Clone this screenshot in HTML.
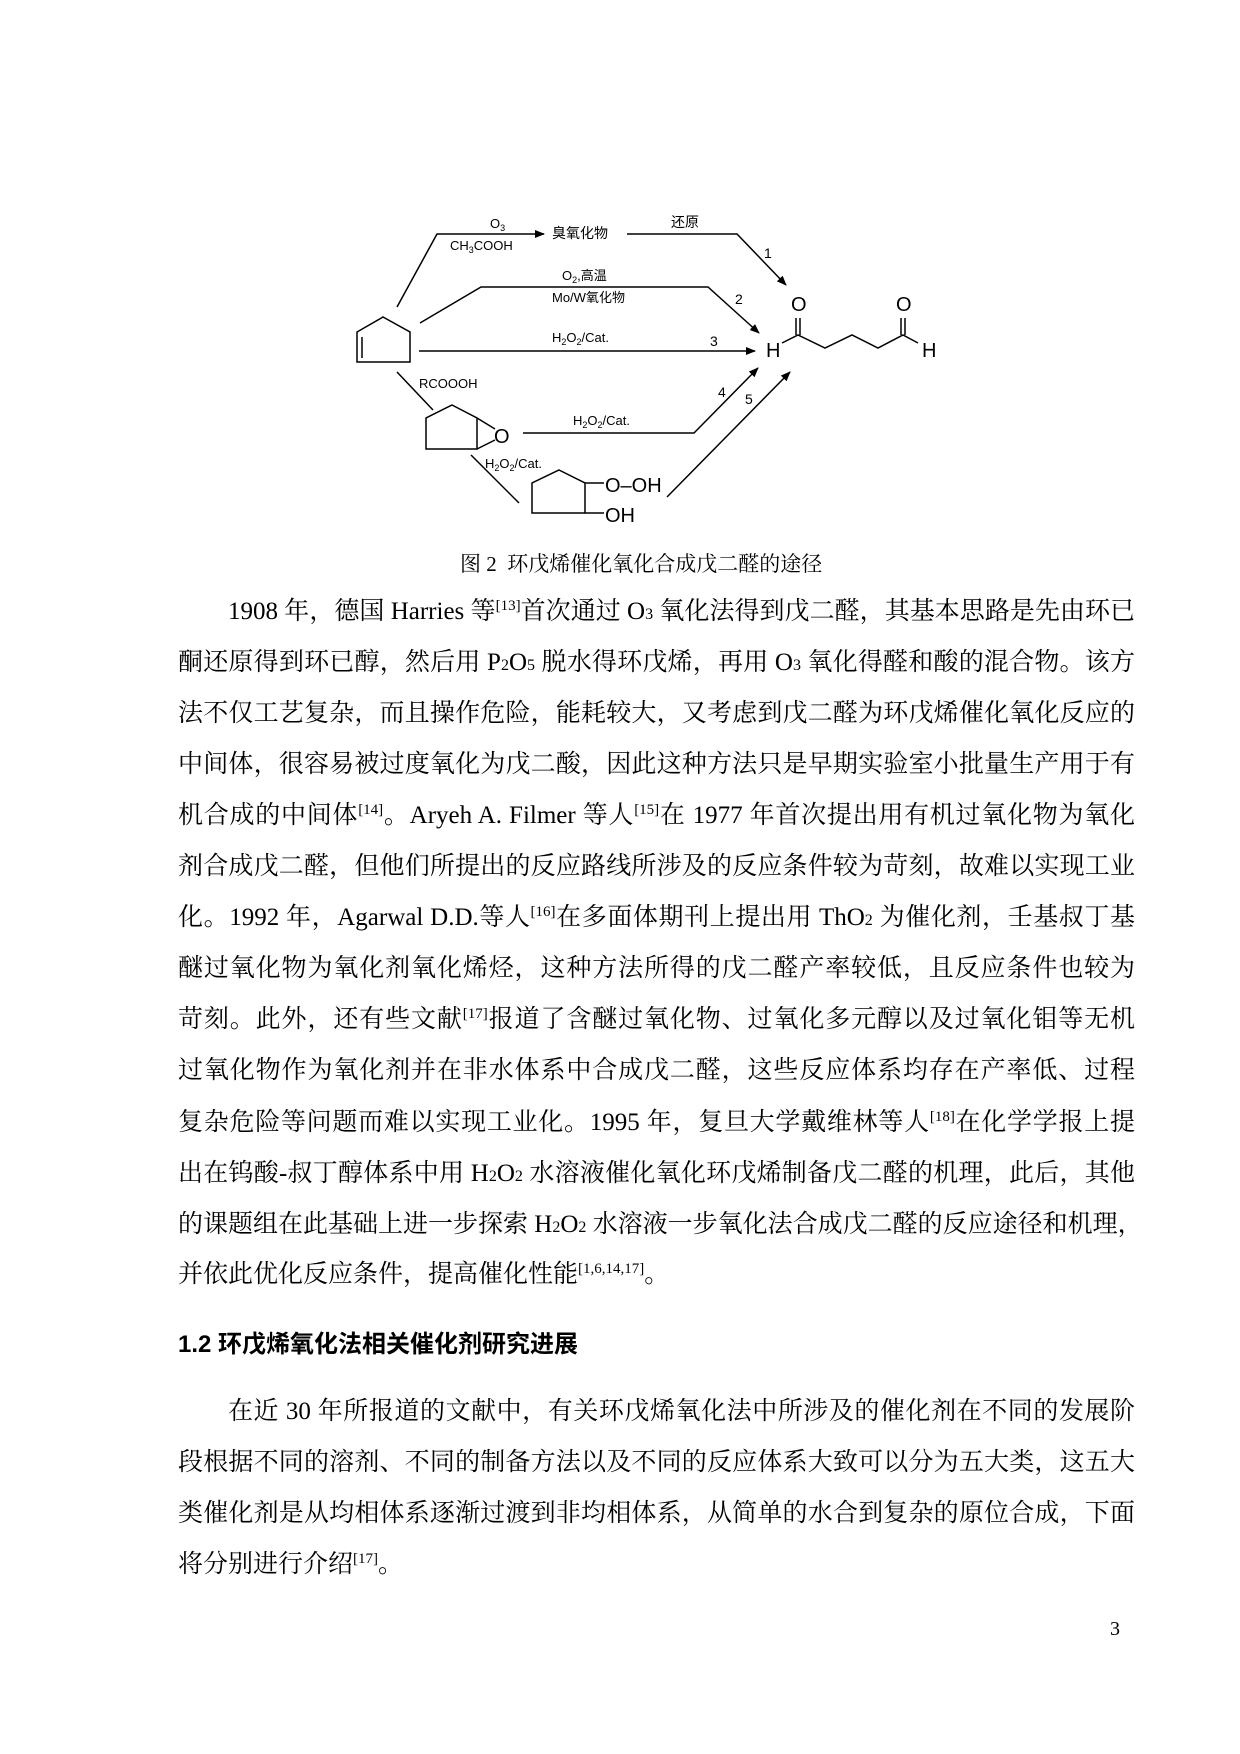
<!DOCTYPE html>
<html><head><meta charset="utf-8">
<style>
html,body{margin:0;padding:0;background:#fff;}
body{width:1240px;height:1754px;position:relative;overflow:hidden;}
.l{position:absolute;left:178px;width:957px;height:30px;line-height:30px;font-family:"Liberation Serif","Noto Serif CJK SC",serif;font-size:25px;color:#000;text-align:justify;text-align-last:justify;white-space:nowrap;}
.l.f{left:228px;width:907px;}
.l.e{text-align-last:left;}
sup{font-size:15px;vertical-align:0;position:relative;top:-9px;line-height:0;}
.s{font-size:16px;}
.h{position:absolute;left:178px;top:1330px;font-family:"Liberation Sans","Noto Sans CJK SC",sans-serif;font-weight:bold;font-size:24px;line-height:30px;}
.cap{position:absolute;left:460px;top:549px;font-family:"Liberation Serif","Noto Serif CJK SC",serif;font-size:21px;line-height:30px;}
.pn{position:absolute;left:1110px;top:1618px;font-family:"Liberation Serif",serif;font-size:20px;}
svg text{font-family:"Liberation Sans","Noto Sans CJK SC",sans-serif;}
</style></head><body>
<svg width="1240" height="560" style="position:absolute;left:0;top:0" xmlns="http://www.w3.org/2000/svg">
<defs><marker id="a" markerWidth="10" markerHeight="8" refX="9" refY="4" orient="auto" markerUnits="userSpaceOnUse"><path d="M0,0 L10,4 L0,8 z" fill="#000"/></marker></defs>
<g stroke="#000" stroke-width="1.5" fill="none">
<polygon points="383,317 410,332 410,362 357,362 357,332"/>
<line x1="362" y1="337" x2="362" y2="358"/>
<polyline points="397,307 437,234 544,234" marker-end="url(#a)"/>
<polyline points="627,234 737,234 786,285" marker-end="url(#a)"/>
<polyline points="420,323 481,287 708,287 759,333" marker-end="url(#a)"/>
<line x1="419" y1="351" x2="755" y2="351" marker-end="url(#a)"/>
<polyline points="523,433 694,433 758,368" marker-end="url(#a)"/>
<line x1="667" y1="497" x2="790" y2="372" marker-end="url(#a)"/>
<line x1="397" y1="372" x2="433" y2="410"/>
<polygon points="452,405 477,418 477,449 426,449 426,418"/>
<line x1="477" y1="418" x2="495" y2="429"/>
<line x1="477" y1="449" x2="495" y2="440"/>
<line x1="471" y1="455" x2="519" y2="503"/>
<polygon points="559,470 585,483 585,513 532,513 532,483"/>
<line x1="585" y1="483" x2="604" y2="483"/>
<line x1="585" y1="513" x2="604" y2="513"/>
<polyline points="782,343 798,335 825,348 852,335 878,348 903,335 918,343"/>
<line x1="796" y1="335" x2="796" y2="318"/><line x1="800" y1="335" x2="800" y2="318"/>
<line x1="901" y1="335" x2="901" y2="318"/><line x1="905" y1="335" x2="905" y2="318"/>
</g>
<g font-size="13" fill="#000">
<text x="490" y="228">O<tspan font-size="9" dy="3">3</tspan></text>
<text x="450" y="250">CH<tspan font-size="9" dy="3">3</tspan><tspan dy="-3">COOH</tspan></text>
<text x="552" y="238" font-size="14">臭氧化物</text>
<text x="671" y="227" font-size="14">还原</text>
<text x="764" y="258" font-size="14">1</text>
<text x="562" y="280">O<tspan font-size="9" dy="3">2</tspan><tspan dy="-3">,高温</tspan></text>
<text x="552" y="302">Mo/W氧化物</text>
<text x="735" y="304" font-size="14">2</text>
<text x="552" y="342">H<tspan font-size="9" dy="3">2</tspan><tspan dy="-3">O</tspan><tspan font-size="9" dy="3">2</tspan><tspan dy="-3">/Cat.</tspan></text>
<text x="710" y="346" font-size="14">3</text>
<text x="419" y="388">RCOOOH</text>
<text x="573" y="425">H<tspan font-size="9" dy="3">2</tspan><tspan dy="-3">O</tspan><tspan font-size="9" dy="3">2</tspan><tspan dy="-3">/Cat.</tspan></text>
<text x="718" y="397" font-size="14">4</text>
<text x="745" y="404" font-size="14">5</text>
<text x="485" y="468">H<tspan font-size="9" dy="3">2</tspan><tspan dy="-3">O</tspan><tspan font-size="9" dy="3">2</tspan><tspan dy="-3">/Cat.</tspan></text>
</g>
<g font-size="20" fill="#000">
<text x="494" y="443">O</text>
<text x="605" y="492">O–OH</text>
<text x="605" y="522">OH</text>
<text x="766" y="357">H</text>
<text x="791" y="311">O</text>
<text x="896" y="311">O</text>
<text x="922" y="357">H</text>
</g>
</svg>
<div class="cap">图 2&nbsp; 环戊烯催化氧化合成戊二醛的途径</div>
<div class="l f" style="top:597px">1908 年，德国 Harries 等<sup>[13]</sup>首次通过 O<span class="s">3</span> 氧化法得到戊二醛，其基本思路是先由环已</div>
<div class="l" style="top:648px">酮还原得到环已醇，然后用 P<span class="s">2</span>O<span class="s">5</span> 脱水得环戊烯，再用 O<span class="s">3</span> 氧化得醛和酸的混合物。该方</div>
<div class="l" style="top:699px">法不仅工艺复杂，而且操作危险，能耗较大，又考虑到戊二醛为环戊烯催化氧化反应的</div>
<div class="l" style="top:750px">中间体，很容易被过度氧化为戊二酸，因此这种方法只是早期实验室小批量生产用于有</div>
<div class="l" style="top:801px">机合成的中间体<sup>[14]</sup>。Aryeh A. Filmer 等人<sup>[15]</sup>在 1977 年首次提出用有机过氧化物为氧化</div>
<div class="l" style="top:852px">剂合成戊二醛，但他们所提出的反应路线所涉及的反应条件较为苛刻，故难以实现工业</div>
<div class="l" style="top:903px">化。1992 年，Agarwal D.D.等人<sup>[16]</sup>在多面体期刊上提出用 ThO<span class="s">2</span> 为催化剂，壬基叔丁基</div>
<div class="l" style="top:954px">醚过氧化物为氧化剂氧化烯烃，这种方法所得的戊二醛产率较低，且反应条件也较为</div>
<div class="l" style="top:1005px">苛刻。此外，还有些文献<sup>[17]</sup>报道了含醚过氧化物、过氧化多元醇以及过氧化钼等无机</div>
<div class="l" style="top:1056px">过氧化物作为氧化剂并在非水体系中合成戊二醛，这些反应体系均存在产率低、过程</div>
<div class="l" style="top:1108px">复杂危险等问题而难以实现工业化。1995 年，复旦大学戴维林等人<sup>[18]</sup>在化学学报上提</div>
<div class="l" style="top:1159px">出在钨酸-叔丁醇体系中用 H<span class="s">2</span>O<span class="s">2</span> 水溶液催化氧化环戊烯制备戊二醛的机理，此后，其他</div>
<div class="l" style="top:1210px">的课题组在此基础上进一步探索 H<span class="s">2</span>O<span class="s">2</span> 水溶液一步氧化法合成戊二醛的反应途径和机理，</div>
<div class="l e" style="top:1260px">并依此优化反应条件，提高催化性能<sup>[1,6,14,17]</sup>。</div>
<div class="h">1.2 环戊烯氧化法相关催化剂研究进展</div>
<div class="l f" style="top:1397px">在近 30 年所报道的文献中，有关环戊烯氧化法中所涉及的催化剂在不同的发展阶</div>
<div class="l" style="top:1448px">段根据不同的溶剂、不同的制备方法以及不同的反应体系大致可以分为五大类，这五大</div>
<div class="l" style="top:1499px">类催化剂是从均相体系逐渐过渡到非均相体系，从简单的水合到复杂的原位合成，下面</div>
<div class="l e" style="top:1550px">将分别进行介绍<sup>[17]</sup>。</div>
<div class="pn">3</div>
</body></html>
